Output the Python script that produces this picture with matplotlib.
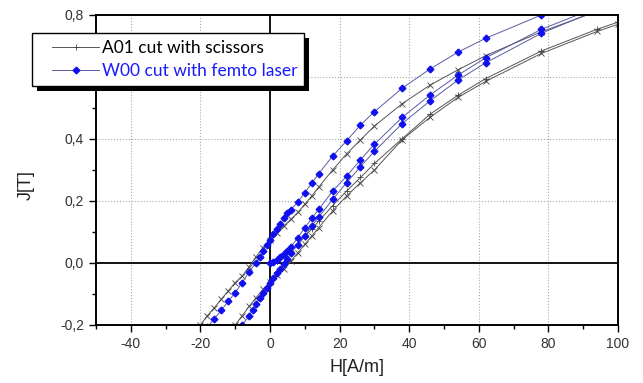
import numpy as np
import matplotlib.pyplot as plt
from matplotlib.patches import Rectangle
from matplotlib.lines import Line2D
from matplotlib.legend_handler import HandlerLine2D
from matplotlib.ticker import FuncFormatter, MultipleLocator

# A01 cut with scissors: initial curve, ascending and descending branch
h_a01_init = [0, 2, 4, 6, 8, 10, 12, 14, 18, 22, 26, 30, 38, 46, 54, 62, 78, 94, 100]
j_a01_init = [0, 0.008, 0.02, 0.038, 0.06, 0.085, 0.11, 0.135, 0.185, 0.232, 0.276,
              0.321, 0.401, 0.48, 0.541, 0.595, 0.684, 0.754, 0.777]
h_a01_up = [-12, -10, -8, -6, -4, -2, 0, 2, 4, 6, 8, 10, 12, 14, 18, 22, 26, 30,
            38, 46, 54, 62, 78, 94, 100]
j_a01_up = [-0.23, -0.2, -0.17, -0.14, -0.112, -0.085, -0.06, -0.04, -0.018, 0.006,
            0.033, 0.06, 0.087, 0.114, 0.168, 0.216, 0.259, 0.30, 0.398, 0.47,
            0.534, 0.586, 0.676, 0.747, 0.77]
h_a01_down = [94, 78, 62, 54, 46, 38, 30, 26, 22, 18, 14, 12, 10, 8, 6, 4, 2, 0,
              -2, -4, -6, -8, -10, -12, -14, -16, -18, -20]
j_a01_down = [0.812, 0.746, 0.669, 0.623, 0.574, 0.514, 0.442, 0.397, 0.352, 0.300,
              0.245, 0.216, 0.19, 0.163, 0.141, 0.12, 0.098, 0.075, 0.05, 0.02,
              -0.012, -0.042, -0.063, -0.09, -0.117, -0.144, -0.17, -0.2]

# W00 cut with femto laser
h_w00_init = [0, 1, 2, 3, 4, 5, 6, 8, 10, 12, 14, 18, 22, 26, 30, 38, 46, 54, 62, 78, 94]
j_w00_init = [0, 0.004, 0.011, 0.02, 0.029, 0.04, 0.052, 0.082, 0.114, 0.144, 0.173,
              0.232, 0.28, 0.333, 0.383, 0.47, 0.542, 0.606, 0.662, 0.754, 0.825]
h_w00_up = [-10, -8, -6, -5, -4, -3, -2, -1, 0, 1, 2, 3, 4, 5, 6, 8, 10, 12, 14,
            18, 22, 26, 30, 38, 46, 54, 62, 78, 94]
j_w00_up = [-0.235, -0.2, -0.171, -0.15, -0.131, -0.112, -0.096, -0.08, -0.064,
            -0.048, -0.033, -0.018, -0.004, 0.012, 0.033, 0.058, 0.087, 0.119,
            0.148, 0.205, 0.259, 0.311, 0.36, 0.45, 0.523, 0.59, 0.646, 0.741, 0.815]
h_w00_down = [94, 78, 62, 54, 46, 38, 30, 26, 22, 18, 14, 12, 10, 8, 6, 5, 4, 3, 2,
              1, 0, -1, -2, -3, -4, -6, -8, -10, -12, -14, -16, -18]
j_w00_down = [0.86, 0.80, 0.725, 0.68, 0.626, 0.564, 0.488, 0.445, 0.394, 0.345,
              0.288, 0.258, 0.227, 0.197, 0.172, 0.16, 0.144, 0.127, 0.109, 0.092,
              0.073, 0.057, 0.038, 0.018, 0.001, -0.028, -0.063, -0.096, -0.123,
              -0.153, -0.18, -0.207]

labels = ['A01 cut with scissors', 'W00 cut with femto laser']

fig = plt.figure(figsize=(6.43, 3.83), dpi=100)
ax = fig.add_axes([96/643, 1-325/383, 522/643, 310/383])

blk = dict(color='#555555', lw=0.7, mec='#444444', mew=0.6, ms=4.5)
blu = dict(color='#5a5aa8', lw=0.7, marker='D', ms=3.4, mfc='#1010ee', mec='#1010ee')

l_a, = ax.plot(h_a01_init, j_a01_init, marker='+', **blk)
ax.plot(h_a01_up, j_a01_up, marker='x', **blk)
ax.plot(h_a01_down, j_a01_down, marker='x', **blk)
l_w, = ax.plot(h_w00_init, j_w00_init, **blu)
ax.plot(h_w00_up, j_w00_up, **blu)
ax.plot(h_w00_down, j_w00_down, **blu)

ax.set_xlim(-50, 100)
ax.set_ylim(-0.2, 0.8)
ax.set_xticks(np.arange(-40, 101, 20))
ax.set_yticks(np.arange(-0.2, 0.81, 0.2))
ax.xaxis.set_minor_locator(MultipleLocator(10))
ax.yaxis.set_minor_locator(MultipleLocator(0.1))
ax.yaxis.set_major_formatter(FuncFormatter(lambda v, p: f"{v:.1f}".replace('.', ',')))
ax.xaxis.set_major_formatter(FuncFormatter(lambda v, p: f"{v:.0f}"))

for g in [-40, -20, 20, 40, 60, 80]:
    ax.axvline(g, color='#aaaaaa', ls=':', lw=0.8, zorder=0)
for g in [0.2, 0.4, 0.6]:
    ax.axhline(g, color='#aaaaaa', ls=':', lw=0.8, zorder=0)
ax.axvline(0, color='black', lw=1.3, zorder=1)
ax.axhline(0, color='black', lw=1.3, zorder=1)

for s in ax.spines.values():
    s.set_linewidth(1.4)
ax.tick_params(which='major', direction='out', length=5, width=1,
               labelsize=10, labelcolor='#333333')
ax.tick_params(which='minor', direction='out', length=3, width=1)
for t in ax.get_xticklabels() + ax.get_yticklabels():
    t.set_family('Liberation Sans')

ax.set_xlabel('H[A/m]', fontsize=13, family='Liberation Sans', color='#222222')
ax.set_ylabel('J[T]', fontsize=13, family='Liberation Sans', color='#222222')
ax.xaxis.set_label_coords(0.5, -0.11)
ax.yaxis.set_label_coords(-0.118, 0.45)

leg = fig.legend([l_a, l_w], labels, loc='upper left',
                 bbox_to_anchor=(32/643, 1-33/383), bbox_transform=fig.transFigure,
                 frameon=True, fancybox=False, framealpha=1, edgecolor='black',
                 prop={'family': 'Lato', 'size': 12.5}, handlelength=3.5,
                 handletextpad=0.17, borderpad=0.38, labelspacing=0.45,
                 borderaxespad=0,
                 handler_map={Line2D: HandlerLine2D(xpad=0.77)})
leg.get_frame().set_linewidth(1.0)
leg.get_texts()[1].set_color('#1a1aff')

# black drop shadow behind the legend box
fig.canvas.draw()
bb = leg.get_frame().get_window_extent()
inv = fig.transFigure.inverted()
(x0, y0) = inv.transform((bb.x0 + 5, bb.y0 - 5))
(x1, y1) = inv.transform((bb.x1 + 5, bb.y1 - 5))
fig.add_artist(Rectangle((x0, y0), x1 - x0, y1 - y0, transform=fig.transFigure,
                         facecolor='black', edgecolor='none', zorder=4.9))

fig.savefig('out.png', dpi=100)
